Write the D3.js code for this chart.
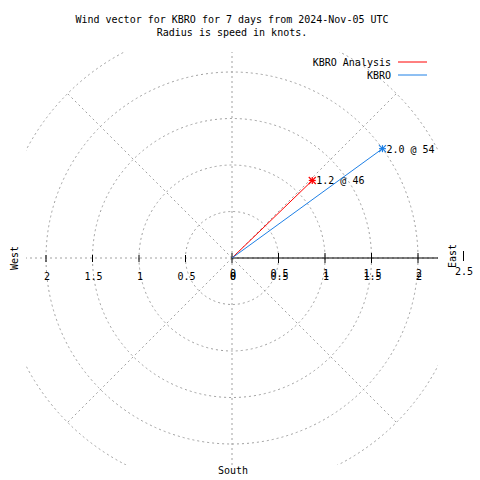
<!DOCTYPE html>
<html><head><meta charset="utf-8">
<script src="https://cdn.jsdelivr.net/npm/d3@7"></script>
<style>body{margin:0;background:#fff}svg{display:block}text{font-family:"DejaVu Sans Mono",monospace;font-size:10px;fill:#000}</style>
</head><body>
<script>
const titleLines = ["Wind vector for KBRO for 7 days from 2024-Nov-05 UTC", "Radius is speed in knots."];
const seriesNames = ["KBRO Analysis", "KBRO"];
const seriesSpeed = [1.2, 2.0];
const seriesDir = [46, 54];
const seriesColor = ["#ff0000", "#1e80e6"];
const ringValues = [0.5, 1, 1.5, 2, 2.5];
const spokeAngles = [0, 45, 90, 135, 180, 225, 270, 315];
const tickValues = [0, 0.5, 1, 1.5, 2];
const tickLabels = ["0", "0.5", "1", "1.5", "2"];

const W = 480, H = 480, cx = 232, cy = 258;
const svg = d3.select("body").append("svg").attr("width", W).attr("height", H);
const r = d3.scaleLinear().domain([0, 2.5]).range([0, 232.5]);
const plot = {x0: 26, x1: 438, y0: 52, y1: 465};

svg.append("clipPath").attr("id", "clip").append("rect")
  .attr("x", plot.x0).attr("y", plot.y0).attr("width", plot.x1 - plot.x0).attr("height", plot.y1 - plot.y0);
const g = svg.append("g").attr("clip-path", "url(#clip)");

// rings
g.selectAll("circle.ring").data(ringValues).join("circle")
  .attr("cx", cx).attr("cy", cy).attr("r", d => r(d))
  .attr("fill", "none").attr("stroke", "#a0a0a0").attr("stroke-dasharray", "2,3");
// spokes
g.selectAll("line.spoke").data(spokeAngles).join("line")
  .attr("x1", cx).attr("y1", cy)
  .attr("x2", d => cx + r(2.5) * Math.sin(d * Math.PI / 180) * (d % 90 === 0 ? 1.2 : 1))
  .attr("y2", d => cy - r(2.5) * Math.cos(d * Math.PI / 180) * (d % 90 === 0 ? 1.2 : 1))
  .attr("stroke", "#a0a0a0").attr("stroke-dasharray", "2,3");

// solid axis on the right
svg.append("line").attr("x1", cx).attr("y1", cy).attr("x2", plot.x1).attr("y2", cy).attr("stroke", "#000");
svg.selectAll("line.tr").data(tickValues).join("line")
  .attr("x1", d => cx + r(d)).attr("x2", d => cx + r(d)).attr("y1", cy - 5).attr("y2", cy + 5).attr("stroke", "#000");
svg.selectAll("line.tl").data(tickValues.slice(1)).join("line")
  .attr("x1", d => cx - r(d)).attr("x2", d => cx - r(d)).attr("y1", cy - 3).attr("y2", cy + 4).attr("stroke", "#000");

// tick labels
const tl = svg.append("g").attr("text-anchor", "middle");
tickValues.forEach((v, i) => {
  tl.append("text").attr("x", cx - r(v) + 1).attr("y", cy + 22).text(tickLabels[i]);
  tl.append("text").attr("x", cx + r(v) + 1).attr("y", cy + 19).text(tickLabels[i]);
  tl.append("text").attr("x", cx + r(v) + 1).attr("y", cy + 22).text(tickLabels[i]);
});
// extra 2.5 on right
svg.append("line").attr("x1", 463.5).attr("x2", 463.5).attr("y1", cy - 7).attr("y2", cy + 3).attr("stroke", "#000");
svg.append("text").attr("x", 464).attr("y", 275).attr("text-anchor", "middle").text("2.5");

// direction labels
svg.append("text").attr("transform", `translate(18,${cy}) rotate(-90)`).attr("text-anchor", "middle").text("West");
svg.append("text").attr("transform", `translate(455.5,${cy - 2}) rotate(-90)`).attr("text-anchor", "middle").text("East");
svg.append("text").attr("x", 233).attr("y", 474).attr("text-anchor", "middle").text("South");

// title
svg.selectAll("text.title").data(titleLines).join("text")
  .attr("x", 232).attr("y", (d, i) => 23 + i * 13).attr("text-anchor", "middle").text(d => d);

// vectors
const pt = i => [cx + r(seriesSpeed[i]) * Math.sin(seriesDir[i] * Math.PI / 180),
                 cy - r(seriesSpeed[i]) * Math.cos(seriesDir[i] * Math.PI / 180)];
seriesNames.forEach((n, i) => {
  const [x, y] = pt(i);
  svg.append("line").attr("x1", cx).attr("y1", cy).attr("x2", x).attr("y2", y).attr("stroke", seriesColor[i]);
  const s = 3.5;
  const star = svg.append("g").attr("stroke", seriesColor[i]).attr("stroke-width", 1.2);
  star.append("line").attr("x1", x - s).attr("x2", x + s).attr("y1", y).attr("y2", y);
  star.append("line").attr("x1", x).attr("x2", x).attr("y1", y - s).attr("y2", y + s);
  star.append("line").attr("x1", x - s).attr("x2", x + s).attr("y1", y - s).attr("y2", y + s);
  star.append("line").attr("x1", x - s).attr("x2", x + s).attr("y1", y + s).attr("y2", y - s);
  svg.append("text").attr("x", x + 4).attr("y", y + 4)
    .text(seriesSpeed[i].toFixed(1) + " @ " + seriesDir[i]);
});

// legend
seriesNames.forEach((n, i) => {
  const y = 62 + i * 13;
  svg.append("text").attr("x", 391).attr("y", y + 4).attr("text-anchor", "end").text(n);
  svg.append("line").attr("x1", 398).attr("x2", 427).attr("y1", y).attr("y2", y).attr("stroke", seriesColor[i]);
});
</script>
</body></html>
